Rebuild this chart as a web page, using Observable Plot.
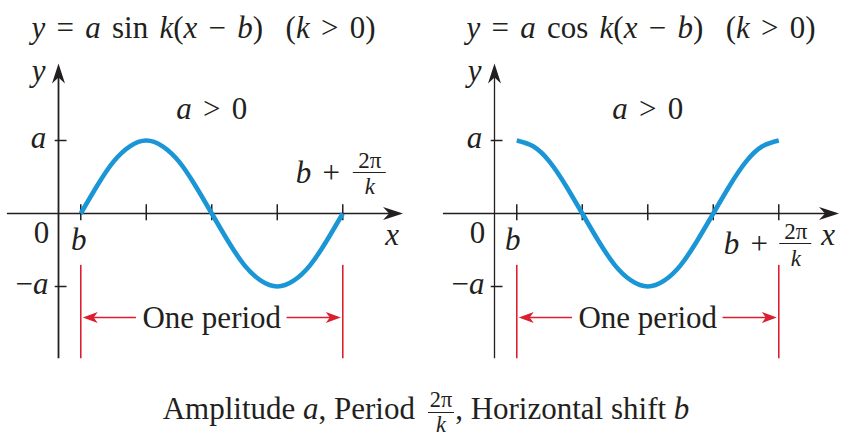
<!DOCTYPE html>
<html>
<head>
<meta charset="utf-8">
<script src="https://cdn.jsdelivr.net/npm/d3@7"></script>
<script src="https://cdn.jsdelivr.net/npm/@observablehq/plot@0.6"></script>
<style>
  html, body { margin: 0; padding: 0; background: #fff; }
  body { width: 856px; height: 438px; position: relative; overflow: hidden;
         font-family: "Liberation Serif", "Times New Roman", serif; color: #231f20; }
  #left { position: absolute; left: 0; top: 0; }
  #right { position: absolute; left: 436px; top: 0; }
  #caption { position: absolute; left: 0; top: 388px; width: 852px; text-align: center;
             font-size: 31px; line-height: 31px; white-space: nowrap; }
  #caption .frac { display: inline-block; vertical-align: -0.6em; text-align: center;
                   font-size: 0.72em; line-height: 1.08; margin: 0 1px 0 5px; }
  #caption .frac span { display: block; padding: 0 2px; }
  #caption .frac .num { border-bottom: 1.4px solid #231f20; }
  svg text { white-space: pre; }
</style>
</head>
<body>
<div id="left"></div>
<div id="right"></div>
<div id="caption"></div>
<script>
// ---------- data ----------
const panelNames = ["sin", "cos"];
const titleTexts = ["_y_ = _a_ sin _k_(_x_ − _b_)  (_k_ > 0)", "_y_ = _a_ cos _k_(_x_ − _b_)  (_k_ > 0)"];
const conditionText = "_a_ > 0";
const periodText = "One period";
const endLabelText = "_b_ +";
const fracNumerator = "2π";
const fracDenominator = "_k_";
const yTickValues = [1, -1];            // a, −a
const yTickLabels = ["_a_", "−_a_"];
const xAxisLabel = "_x_";
const yAxisLabel = "_y_";
const originLabel = "0";
const shiftLabel = "_b_";
const shiftB = 0.34;                    // b, in quarter-period units
const quarterTicks = [0, 1, 2, 3, 4];   // b, b+P/4, ..., b+P
const sampleT = [0, 0.25, 0.5, 0.75, 1, 1.25, 1.5, 1.75, 2, 2.25, 2.5, 2.75, 3, 3.25, 3.5, 3.75, 4];
const sinValues = [0, 0.38, 0.71, 0.92, 1, 0.92, 0.71, 0.38, 0, -0.38, -0.71, -0.92, -1, -0.92, -0.71, -0.38, 0];
const cosValues = [1, 0.92, 0.71, 0.38, 0, -0.38, -0.71, -0.92, -1, -0.92, -0.71, -0.38, 0, 0.38, 0.71, 0.92, 1];
const captionParts = ["Amplitude ", "a", ", Period ", "2π", "k", ", Horizontal shift ", "b"];

// ---------- layout ----------
const PX = 65.5;          // pixels per quarter period
const INK = "#231f20";
const BLUE = "#1a95d5";
const RED = "#dc1f2e";
const FONT = "Liberation Serif, Times New Roman, serif";
const FS = 31, FS_SMALL = 23;
const xAxisFrom = -0.78, xAxisTip = 5.26;
const yAxisFrom = -1.99, yAxisTip = 2.055;
const arrowLevel = -1.425, arrowGap = 1.15;
const endLabelLayout = [
  {bdx: -47, bdy: -31, fdx: 27, bar: -41, num: -46, den: -20, barW: 33},
  {bdx: -55, bdy: 40, fdx: 17, bar: 30, num: 25, den: 52, barW: 32}
];
const titleDx = [31, 30];

function dart(len, half, notch) {
  return {draw(ctx) {
    ctx.moveTo(0, 0); ctx.lineTo(half, len); ctx.lineTo(0, len - notch);
    ctx.lineTo(-half, len); ctx.closePath();
  }};
}
const bigDart = dart(20, 6.5, 6);
const redDart = dart(15, 5.5, 4);

function panel(i) {
  const b = shiftB, e = shiftB + 4;
  const vals = i === 0 ? sinValues : cosValues;
  const samples = sampleT.map((t, j) => ({t, v: vals[j]}));
  const L = endLabelLayout[i];
  const labels = [
    {x: 0, y: yAxisTip, text: yAxisLabel, dx: -20, dy: 18, anchor: "middle"},
    {x: 0, y: yTickValues[0], text: yTickLabels[0], dx: -20, dy: 7, anchor: "middle"},
    {x: 0, y: yTickValues[1], text: yTickLabels[1], dx: -10, dy: 7, anchor: "end"},
    {x: 0, y: 0, text: originLabel, dx: -17, dy: 29, anchor: "middle"},
    {x: b, y: 0, text: shiftLabel, dx: i ? -4 : -2, dy: 36, anchor: "middle"},
    {x: xAxisTip, y: 0, text: xAxisLabel, dx: -11, dy: 31, anchor: "middle"},
    {x: b + 2, y: 1, text: conditionText, dx: 0, dy: -22, anchor: "middle"},
    {x: b + 2, y: arrowLevel, text: periodText, dx: 0, dy: 10, anchor: "middle"},
    {x: e, y: 0, text: endLabelText, dx: L.bdx, dy: L.bdy, anchor: "start"},
    {x: e, y: 0, text: fracNumerator, dx: L.fdx, dy: L.num, anchor: "middle", size: FS_SMALL},
    {x: e, y: 0, text: fracDenominator, dx: L.fdx, dy: L.den, anchor: "middle", size: FS_SMALL}
  ];
  return Plot.plot({
    width: 420, height: 366, margin: 0,
    x: {domain: [0, 1], range: [58, 58 + PX], axis: null},
    y: {domain: [0, 1], range: [213, 140], axis: null},
    style: {fontFamily: FONT, background: "white", color: INK, overflow: "visible"},
    marks: [
      // title
      Plot.text([titleTexts[i]], {text: d => d, frameAnchor: "top-left", dx: titleDx[i], dy: 37,
        textAnchor: "start", lineAnchor: "bottom", fontSize: FS, fill: INK}),
      // axes
      Plot.ruleY([0], {x1: xAxisFrom, x2: xAxisTip - 0.15, stroke: INK, strokeWidth: 1.7}),
      Plot.dot([{x: xAxisTip, y: 0}], {x: "x", y: "y", symbol: bigDart, rotate: 90, fill: INK, stroke: "none"}),
      Plot.ruleX([0], {y1: yAxisFrom, y2: yAxisTip - 0.15, stroke: INK, strokeWidth: i ? 1.3 : 1.8}),
      Plot.dot([{x: 0, y: yAxisTip}], {x: "x", y: "y", symbol: bigDart, rotate: 0, fill: INK, stroke: "none"}),
      Plot.ruleX(quarterTicks, {x: q => b + q, y1: 0.12, y2: -0.1, stroke: INK, strokeWidth: 1.5}),
      Plot.ruleY(yTickValues, {x1: -0.05, x2: 0.13, stroke: INK, strokeWidth: 1.5}),
      // curve
      Plot.line(samples, {x: d => b + d.t, y: "v", stroke: BLUE, strokeWidth: 4.6, curve: "natural", strokeLinecap: "butt"}),
      // period markers
      Plot.ruleX([0, 4], {x: q => b + q, y1: -0.71, y2: yAxisFrom, stroke: RED, strokeWidth: 1.6}),
      Plot.ruleY([arrowLevel], {x1: b + 0.1, x2: b + 2 - arrowGap, stroke: RED, strokeWidth: 1.6}),
      Plot.ruleY([arrowLevel], {x1: b + 2 + arrowGap, x2: e - 0.1, stroke: RED, strokeWidth: 1.6}),
      Plot.dot([{x: b + 0.03, y: arrowLevel, r: -90}, {x: e - 0.03, y: arrowLevel, r: 90}],
        {x: "x", y: "y", rotate: "r", symbol: redDart, fill: RED, stroke: "none"}),
      // fraction bar
      Plot.ruleY([0], {x1: e + (L.fdx - L.barW / 2) / PX, x2: e + (L.fdx + L.barW / 2) / PX, dy: L.bar, stroke: INK, strokeWidth: 1.2}),
      // labels
      ...labels.map(l => Plot.text([l], {x: "x", y: "y", text: "text", dx: l.dx, dy: l.dy,
        textAnchor: l.anchor, lineAnchor: "bottom", fontSize: l.size || FS, fill: INK}))
    ]
  });
}

function italicize(svg) {
  d3.select(svg).selectAll("text").each(function () {
    const s = this.textContent;
    if (!s.includes("_")) return;
    this.textContent = "";
    if (s.includes(" ")) this.style.wordSpacing = "3.5px";
    s.split("_").forEach((part, k) => {
      if (!part) return;
      const t = d3.select(this).append("tspan").text(part);
      if (k % 2) t.attr("font-style", "italic");
    });
  });
}

["left", "right"].forEach((id, i) => {
  const svg = panel(i);
  italicize(svg);
  document.getElementById(id).appendChild(svg);
});

// caption
const cap = d3.select("#caption");
cap.append("span").text(captionParts[0]);
cap.append("i").text(captionParts[1]);
cap.append("span").text(captionParts[2]);
const fr = cap.append("span").attr("class", "frac");
fr.append("span").attr("class", "num").text(captionParts[3]);
fr.append("span").attr("class", "den").append("i").text(captionParts[4]);
cap.append("span").text(captionParts[5]);
cap.append("i").text(captionParts[6]);
</script>
</body>
</html>
